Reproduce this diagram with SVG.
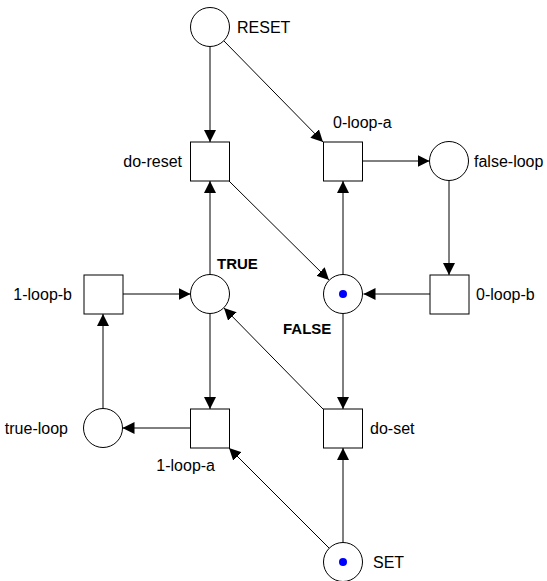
<svg xmlns="http://www.w3.org/2000/svg" width="547" height="581" viewBox="0 0 547 581">
<style>
.p{fill:#fff;stroke:#000;stroke-width:1}
.t{fill:#fff;stroke:#000;stroke-width:1}
.e{stroke:#000;stroke-width:1;fill:none;marker-end:url(#ah)}
.l{font-family:"Liberation Sans",Arial,sans-serif;font-size:16px;fill:#000}
.b{font-family:"Liberation Sans",Arial,sans-serif;font-size:15px;font-weight:bold;fill:#000}
.k{fill:#0000ff}
</style>
<defs>
<marker id="ah" markerUnits="userSpaceOnUse" markerWidth="13" markerHeight="12" refX="12" refY="6" orient="auto">
<path d="M0,0 L12,6 L0,12 z" fill="#000"/>
</marker>
</defs>
<rect width="547" height="581" fill="#fff"/>
<g id="connectors">
<line class="e" x1="210" y1="47" x2="210" y2="142"/>
<line class="e" x1="224" y1="41" x2="323" y2="142"/>
<line class="e" x1="229" y1="181" x2="329" y2="280"/>
<line class="e" x1="363" y1="161" x2="429.5" y2="161"/>
<line class="e" x1="449" y1="181" x2="449" y2="275"/>
<line class="e" x1="430" y1="294" x2="363.5" y2="294"/>
<line class="e" x1="343" y1="274.5" x2="343" y2="181"/>
<line class="e" x1="343" y1="313.5" x2="343" y2="409"/>
<line class="e" x1="343" y1="542.5" x2="343" y2="448"/>
<line class="e" x1="329" y1="548" x2="229" y2="448"/>
<line class="e" x1="323" y1="409" x2="224" y2="308"/>
<line class="e" x1="210" y1="274.5" x2="210" y2="181"/>
<line class="e" x1="210" y1="313.5" x2="210" y2="409"/>
<line class="e" x1="190" y1="428" x2="122.5" y2="428"/>
<line class="e" x1="103" y1="408.5" x2="103" y2="314"/>
<line class="e" x1="123" y1="294" x2="190.5" y2="294"/>
</g>
<g id="RESET"><circle class="p" cx="210" cy="27" r="19.5"/><text class="l" x="237" y="33">RESET</text></g>
<g id="do-reset"><rect class="t" x="190.5" y="142" width="39" height="39"/><text class="l" x="182" y="167" text-anchor="end">do-reset</text></g>
<g id="0-loop-a"><rect class="t" x="323.5" y="142" width="39" height="39"/><text class="l" x="333" y="128">0-loop-a</text></g>
<g id="false-loop"><circle class="p" cx="449" cy="161" r="19.5"/><text class="l" x="474" y="167">false-loop</text></g>
<g id="TRUE"><circle class="p" cx="210" cy="294" r="19.5"/><text class="b" x="217" y="269">TRUE</text></g>
<g id="FALSE"><circle class="p" cx="343" cy="294" r="19.5"/><circle class="k" cx="343" cy="294" r="4"/><text class="b" x="283" y="334">FALSE</text></g>
<g id="0-loop-b"><rect class="t" x="430" y="275" width="39" height="39"/><text class="l" x="476" y="300">0-loop-b</text></g>
<g id="1-loop-b"><rect class="t" x="84" y="275" width="39" height="39"/><text class="l" x="72" y="300" text-anchor="end">1-loop-b</text></g>
<g id="true-loop"><circle class="p" cx="103" cy="428" r="19.5"/><text class="l" x="68" y="434" text-anchor="end">true-loop</text></g>
<g id="1-loop-a"><rect class="t" x="190.5" y="409" width="39" height="39"/><text class="l" x="215" y="471" text-anchor="end">1-loop-a</text></g>
<g id="do-set"><rect class="t" x="323.5" y="409" width="39" height="39"/><text class="l" x="370" y="434">do-set</text></g>
<g id="SET"><circle class="p" cx="343" cy="562" r="19.5"/><circle class="k" cx="343" cy="562" r="4"/><text class="l" x="373" y="568">SET</text></g>
</svg>
